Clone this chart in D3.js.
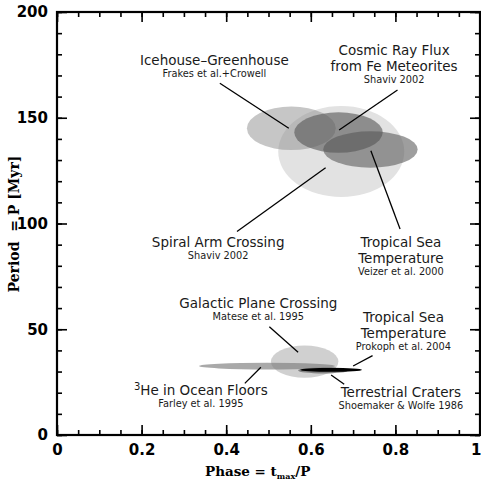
<!DOCTYPE html>
<html>
<head>
<meta charset="utf-8">
<script src="https://cdn.jsdelivr.net/npm/d3@7"></script>
<style>
  html, body { margin: 0; padding: 0; background: #fff; }
  svg { display: block; }
</style>
</head>
<body>
<script>
// Periodic records: phase of the maximum against period.
// Each record is an uncertainty ellipse (centre ± half-width in phase and period).
const seriesNames = [
  "Spiral Arm Crossing",
  "Icehouse–Greenhouse",
  "Tropical Sea Temperature (Veizer)",
  "Cosmic Ray Flux",
  "Galactic Plane Crossing",
  "3He in Ocean Floors",
  "Terrestrial Craters",
  "Tropical Sea Temperature (Prokoph)"
];
const phaseCenter  = [0.672, 0.554, 0.741, 0.6655, 0.5855, 0.4965, 0.629, 0.648];
const periodCenter = [134.0, 145.0, 135.0, 143.0, 34.7, 32.6, 30.5, 30.8];
const phaseSpread  = [0.149, 0.105, 0.1116, 0.1045, 0.0797, 0.1608, 0.059, 0.073];
const periodSpread = [21.5, 10.3, 8.6, 9.55, 7.6, 1.6, 1.4, 0.95];

const xTicks = [0, 0.2, 0.4, 0.6, 0.8, 1];
const xTickLabels = ["0", "0.2", "0.4", "0.6", "0.8", "1"];
const yTicks = [0, 50, 100, 150, 200];
const yTickLabels = ["0", "50", "100", "150", "200"];

// Annotation text: title lines and the reference underneath.
const labelTitles = [
  ["Spiral Arm Crossing"],
  ["Icehouse–Greenhouse"],
  ["Tropical Sea", "Temperature"],
  ["Cosmic Ray Flux", "from Fe Meteorites"],
  ["Galactic Plane Crossing"],
  ["³He in Ocean Floors"],
  ["Terrestrial Craters"],
  ["Tropical Sea", "Temperature"]
];
const labelRefs = [
  "Shaviv 2002",
  "Frakes et al.+Crowell",
  "Veizer et al. 2000",
  "Shaviv 2002",
  "Matese et al. 1995",
  "Farley et al. 1995",
  "Shoemaker & Wolfe 1986",
  "Prokoph et al. 2004"
];

// Layout (in data units): where each annotation sits and its leader line.
const labelPhase  = [0.381, 0.372, 0.813, 0.797, 0.476, 0.340, 0.813, 0.819];
const labelPeriod = [88.7, 174.9, 88.7, 179.7, 59.9, 18.9, 17.8, 53.6];
const leaderFrom = [[0.635, 126.4], [0.548, 145.0], [0.742, 134.4], [0.667, 144.2],
                    [0.570, 39.1], [0.482, 32.0], [0.648, 28.4], [0.700, 32.6]];
const leaderTo   = [[0.4255, 96.2], [0.385, 166.3], [0.811, 97.4], [0.805, 163.1],
                    [0.502, 51.2], [0.444, 24.4], [0.679, 24.0], [0.746, 37.5]];

// Styles
const fills   = ["#e2e2e2", "#919191", "#5e5e5e", "#555555", "#d0d0d0", "#808080", "#7a7a7a", "#000000"];
const opacity = [1, 0.52, 0.6, 0.6, 1, 0.68, 0.9, 1];

const W = 481, H = 485;
const plotLeft = 57, plotRight = 480, plotTop = 12, plotBottom = 435;

const x = d3.scaleLinear().domain([0, 1]).range([plotLeft, plotRight]);
const y = d3.scaleLinear().domain([0, 200]).range([plotBottom, plotTop]);

const svg = d3.select("body").append("svg")
  .attr("width", W).attr("height", H);

// Ellipses
const marks = svg.append("g");
seriesNames.forEach((name, i) => {
  marks.append("ellipse")
    .attr("cx", x(phaseCenter[i]))
    .attr("cy", y(periodCenter[i]))
    .attr("rx", x(phaseSpread[i]) - x(0))
    .attr("ry", y(0) - y(periodSpread[i]))
    .attr("fill", fills[i])
    .attr("fill-opacity", opacity[i]);
});

// Leader lines
const leaders = svg.append("g").attr("stroke", "#000").attr("stroke-width", 1.3);
leaderFrom.forEach((p, i) => {
  const q = leaderTo[i];
  leaders.append("line")
    .attr("x1", x(p[0])).attr("y1", y(p[1]))
    .attr("x2", x(q[0])).attr("y2", y(q[1]));
});

// Annotation labels
const labels = svg.append("g")
  .attr("font-family", "'DejaVu Sans', Verdana, sans-serif")
  .attr("fill", "#1a1a1a")
  .attr("text-anchor", "middle");
labelTitles.forEach((lines, i) => {
  const lx = x(labelPhase[i]);
  const ly = y(labelPeriod[i]);
  lines.forEach((t, k) => {
    const txt = labels.append("text").attr("x", lx).attr("y", ly + k * 16)
      .attr("font-size", 13.5);
    if (t.startsWith("³")) {
      txt.append("tspan").attr("font-size", 10).attr("dy", -5).text("3");
      txt.append("tspan").attr("dy", 5).text(t.slice(1));
    } else {
      txt.text(t);
    }
  });
  labels.append("text")
    .attr("x", lx)
    .attr("y", ly + (lines.length - 1) * 16 + 12)
    .attr("font-size", 9.8)
    .text(labelRefs[i]);
});

// Axes: ticks point inward on all four sides
const minorX = d3.range(0, 1.0001, 0.05);
const minorY = d3.range(0, 200.001, 10);
const tickFont = "'DejaVu Sans', Arial, sans-serif";

function styleAxis(g) {
  g.select(".domain").remove();
  g.selectAll(".tick line").attr("stroke", "#000").attr("stroke-width", 1.6);
  g.selectAll("text").attr("font-family", tickFont).attr("font-size", 15)
    .attr("font-weight", "bold").attr("fill", "#000");
}

svg.append("g").attr("transform", `translate(0,${plotBottom})`)
  .call(d3.axisBottom(x).tickValues(minorX).tickSize(-5).tickFormat(""))
  .call(styleAxis);
const xAxisMajor = svg.append("g").attr("transform", `translate(0,${plotBottom})`)
  .call(d3.axisBottom(x).tickValues(xTicks).tickSize(-10).tickPadding(9)
    .tickFormat((d, i) => xTickLabels[i]))
  .call(styleAxis);
// keep the last label inside the canvas edge
xAxisMajor.selectAll(".tick text").filter(d => d === 1).attr("text-anchor", "end").attr("dx", 1);

svg.append("g").attr("transform", `translate(0,${plotTop})`)
  .call(d3.axisTop(x).tickValues(minorX).tickSize(-5).tickFormat(""))
  .call(styleAxis);
svg.append("g").attr("transform", `translate(0,${plotTop})`)
  .call(d3.axisTop(x).tickValues(xTicks).tickSize(-10).tickFormat(""))
  .call(styleAxis);

svg.append("g").attr("transform", `translate(${plotLeft},0)`)
  .call(d3.axisLeft(y).tickValues(minorY).tickSize(-5).tickFormat(""))
  .call(styleAxis);
svg.append("g").attr("transform", `translate(${plotLeft},0)`)
  .call(d3.axisLeft(y).tickValues(yTicks).tickSize(-10).tickPadding(9)
    .tickFormat((d, i) => yTickLabels[i]))
  .call(styleAxis);

svg.append("g").attr("transform", `translate(${plotRight},0)`)
  .call(d3.axisRight(y).tickValues(minorY).tickSize(-5).tickFormat(""))
  .call(styleAxis);
svg.append("g").attr("transform", `translate(${plotRight},0)`)
  .call(d3.axisRight(y).tickValues(yTicks).tickSize(-10).tickFormat(""))
  .call(styleAxis);

// Frame
svg.append("rect")
  .attr("x", plotLeft).attr("y", plotTop)
  .attr("width", plotRight - plotLeft).attr("height", plotBottom - plotTop)
  .attr("fill", "none").attr("stroke", "#000").attr("stroke-width", 2.2);

// Axis titles
const titleFont = "'DejaVu Serif', 'Liberation Serif', serif";
const xt = svg.append("text")
  .attr("x", 205).attr("y", 476)
  .attr("font-family", titleFont).attr("font-weight", "bold").attr("font-size", 13.5)
  .attr("fill", "#000");
xt.append("tspan").text("Phase = t");
xt.append("tspan").attr("font-size", 8).attr("dy", 3).text("max");
xt.append("tspan").attr("dy", -3).text("/P");

svg.append("text")
  .attr("transform", "translate(19,224) rotate(-90)")
  .attr("text-anchor", "middle")
  .attr("font-family", titleFont).attr("font-weight", "bold").attr("font-size", 14)
  .attr("fill", "#000")
  .style("white-space", "pre")
  .text("Period  = P [Myr]");
</script>
</body>
</html>
